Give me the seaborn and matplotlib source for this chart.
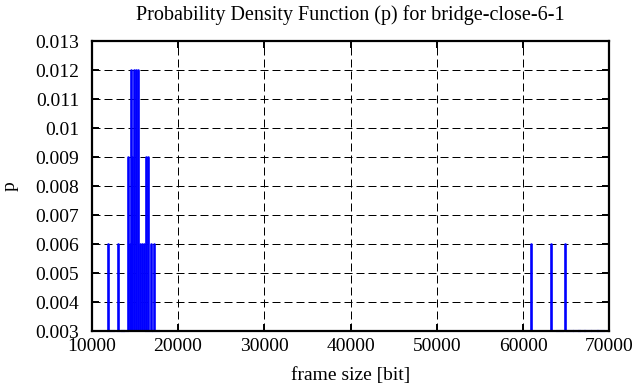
import matplotlib
matplotlib.use("Agg")
import matplotlib.pyplot as plt
import seaborn as sns
import pandas as pd
import numpy as np

# Data (frame size in bit, probability p)
frame_sizes = [11826, 12986, 14203, 14377, 14528, 14688, 14841, 15072, 15304,
               15594, 15826, 16000, 16290, 16522, 16812, 17217,
               60928, 63246, 64870]
probabilities = [0.006, 0.006, 0.009, 0.006, 0.012, 0.009, 0.012, 0.012, 0.012,
                 0.006, 0.006, 0.006, 0.009, 0.009, 0.006, 0.006,
                 0.006, 0.006, 0.006]
# single-frame sizes (p = 0.003) which sit on the lower edge
low_sizes = [12200, 13400, 13900, 16600, 17500,
             64300, 65500, 66200, 66800, 67500, 68300, 69000]
low_p = [0.003] * len(low_sizes)

x_ticks = [10000, 20000, 30000, 40000, 50000, 60000, 70000]
y_ticks = [0.003, 0.004, 0.005, 0.006, 0.007, 0.008, 0.009, 0.010, 0.011, 0.012, 0.013]

title = "Probability Density Function (p) for bridge-close-6-1"
xlabel = "frame size [bit]"
ylabel = "p"

sns.set_theme(style="ticks")
plt.rcParams["font.family"] = ["Liberation Serif", "DejaVu Serif"]
plt.rcParams["text.color"] = "black"
plt.rcParams["axes.labelcolor"] = "black"
plt.rcParams["xtick.color"] = "black"
plt.rcParams["ytick.color"] = "black"

# long-format table for impulses: each one goes from 0 to p
rows = []
for i, (x, p) in enumerate(zip(frame_sizes, probabilities)):
    rows.append({"id": i, "size": x, "p": 0.0})
    rows.append({"id": i, "size": x, "p": p})
df = pd.DataFrame(rows)
df_low = pd.DataFrame({"size": low_sizes, "p": low_p})

fig = plt.figure(figsize=(6.36, 3.87), dpi=100)
ax = fig.add_axes([0.1443, 0.1447, 0.958 - 0.1443, 0.894 - 0.1447])

ax.grid(True, color="black", linestyle=(0, (8, 4)), linewidth=0.72)
ax.set_axisbelow(True)

sns.lineplot(data=df, x="size", y="p", units="id", estimator=None,
             color="#0000ff", linewidth=1.9, ax=ax, legend=False, sort=False)
sns.scatterplot(data=df_low, x="size", y="p", marker="_", s=30,
                color="#0000ff", linewidth=1.5, ax=ax, legend=False, clip_on=False, zorder=1)

ax.set_xlim(10000, 70000)
ax.set_ylim(0.003, 0.013)
ax.set_xticks(x_ticks)
ax.set_xticklabels([str(t) for t in x_ticks])
ax.set_yticks(y_ticks)
ax.set_yticklabels(["%g" % t for t in y_ticks])

for s in ax.spines.values():
    s.set_visible(True)
    s.set_linewidth(1.6)
    s.set_color("black")
ax.tick_params(direction="in", length=5, width=1.4, top=True, right=True,
               labelsize=14, colors="black")
ax.tick_params(axis="y", pad=9)
ax.tick_params(axis="x", pad=5)

ax.set_title(title, fontsize=14.5, pad=15)
ax.set_xlabel(xlabel, fontsize=14, labelpad=9)
ax.set_ylabel(ylabel, fontsize=14, labelpad=12)

fig.savefig("out.png", dpi=100)
